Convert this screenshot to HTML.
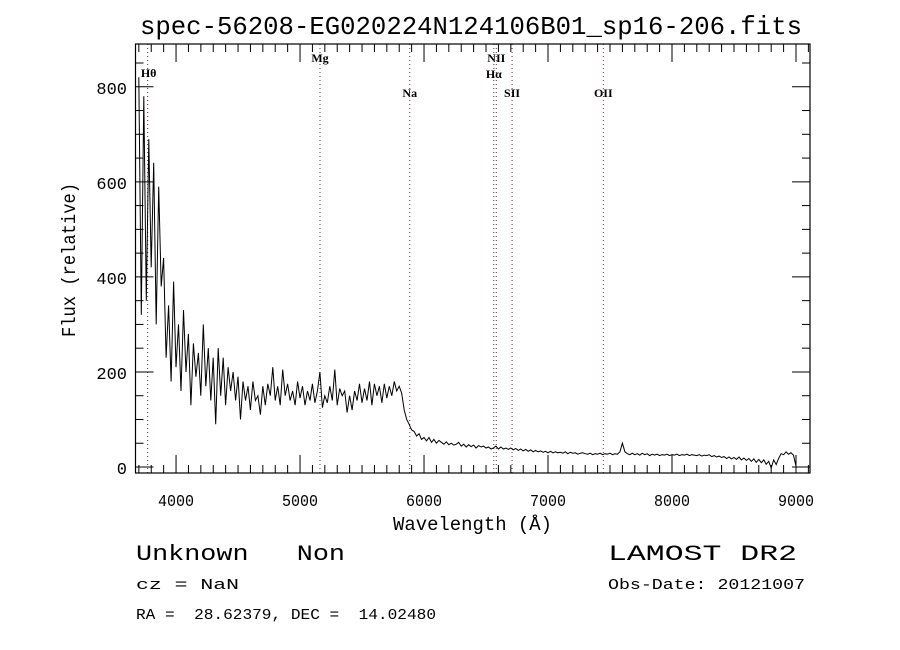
<!DOCTYPE html>
<html><head><meta charset="utf-8"><style>
html,body{margin:0;padding:0;background:#fff;width:900px;height:650px;overflow:hidden}
svg text{fill:#000;white-space:pre}
.t{font-family:"Liberation Mono",monospace}
.s{font-family:"Liberation Serif",serif;font-size:12px}
</style></head><body>
<svg id="chart" width="900" height="650" viewBox="0 0 900 650" xmlns="http://www.w3.org/2000/svg" xml:space="preserve">
<rect width="900" height="650" fill="#fff"/>
<text class="t" x="140" y="34" font-size="26" textLength="662" lengthAdjust="spacingAndGlyphs">spec-56208-EG020224N124106B01_sp16-206.fits</text>
<g id="lines"></g>
<g id="ticks"></g>
<path id="spec" fill="none" stroke="#000" stroke-width="1"/>
<rect x="135.5" y="44" width="674.5" height="429" fill="none" stroke="#000" stroke-width="1.2"/>
<text class="t" x="393" y="530" font-size="19" textLength="159" lengthAdjust="spacingAndGlyphs">Wavelength (Å)</text>
<text class="t" transform="translate(75,337) rotate(-90)" font-size="19" textLength="154" lengthAdjust="spacingAndGlyphs">Flux (relative)</text>
<text class="t" x="136" y="560" font-size="22" textLength="209" lengthAdjust="spacingAndGlyphs">Unknown   Non</text>
<text class="t" x="608" y="560" font-size="22" textLength="189" lengthAdjust="spacingAndGlyphs">LAMOST DR2</text>
<text class="t" x="136" y="589" font-size="15" textLength="103" lengthAdjust="spacingAndGlyphs">cz = NaN</text>
<text class="t" x="608" y="589" font-size="15" textLength="197" lengthAdjust="spacingAndGlyphs">Obs-Date: 20121007</text>
<text class="t" x="136" y="619" font-size="15" textLength="300" lengthAdjust="spacingAndGlyphs">RA =  28.62379, DEC =  14.02480</text>
</svg>
<script>
const xTicks=[4000,5000,6000,7000,8000,9000];
const yTicks=[0,200,400,600,800];
const lineNames=["Hθ","Mg","Na","NII","Hα","SII","OII"];
const lineWaves=[3771,5161,5885,6583,6563,6710,7446];
const wave0=3700, waveStep=20;
const flux=[820,320,780,350,690,420,640,300,590,380,440,230,340,180,390,210,300,160,330,200,280,130,260,190,240,150,300,170,250,140,230,90,250,150,230,130,210,160,200,140,190,100,180,140,170,120,180,140,150,110,170,130,175,150,210,140,170,130,205,150,175,140,160,130,180,145,170,130,160,140,175,135,160,200,125,150,135,170,140,205,130,165,150,160,115,150,120,160,140,175,135,165,140,180,130,175,150,170,135,175,145,170,150,180,160,170,155,120,100,90,78,75,65,70,58,62,55,62,52,58,50,56,52,48,53,47,50,46,48,52,44,48,42,47,43,46,40,45,42,44,40,42,38,40,44,38,42,38,40,37,40,36,39,35,38,34,37,33,36,32,35,32,34,31,33,30,33,30,32,30,31,29,32,28,31,29,30,27,29,30,28,27,29,26,28,27,29,26,28,27,29,26,28,27,32,50,32,28,26,29,26,28,25,29,26,28,24,27,25,27,24,26,25,27,24,26,25,27,24,26,25,27,24,26,25,24,26,23,25,24,26,22,24,21,23,20,22,18,21,17,20,16,21,15,19,14,18,12,17,10,16,9,15,6,12,-2,15,5,18,28,26,32,27,30,25,2];
const X0=3673,X1=9113,Y0=-12.6,Y1=890,L=135.5,R=810,T=44,B=473;
function sx(w){return L+(w-X0)/(X1-X0)*(R-L);}
function sy(v){return B-(v-Y0)/(Y1-Y0)*(B-T);}
const NS="http://www.w3.org/2000/svg";
function mk(tag,attrs,parent){const e=document.createElementNS(NS,tag);for(const k in attrs)e.setAttribute(k,attrs[k]);parent.appendChild(e);return e;}
const tg=document.getElementById('ticks');
for(let w=3700;w<=9100;w+=100){const x=sx(w);const big=w%1000===0;const len=big?18:8;
 const t1=mk('line',{x1:x,x2:x,y1:B,y2:B-len,stroke:'#000'},tg);
 
 
 const t2=mk('line',{x1:x,x2:x,y1:T,y2:T+len,stroke:'#000'},tg);
 
 }
xTicks.forEach(w=>{const t=mk('text',{x:sx(w),y:506,'text-anchor':'middle','font-size':17,class:'t',textLength:36,lengthAdjust:'spacingAndGlyphs'},tg);t.textContent=w;
 
 });
for(let v=0;v<=850;v+=50){const y=sy(v);const big=v%200===0;const len=big?18:8;
 const t1=mk('line',{x1:L,x2:L+len,y1:y,y2:y,stroke:'#000'},tg);
 
 
 const t2=mk('line',{x1:R,x2:R-len,y1:y,y2:y,stroke:'#000'},tg);
 
 }
yTicks.forEach(v=>{const t=mk('text',{x:127,y:sy(v)+7,'text-anchor':'end','font-size':17,class:'t'},tg);t.textContent=v;
 
 });
const lg=document.getElementById('lines');
const labelY=[77,62,97,62,78,97,97];
lineNames.forEach((n,i)=>{const x=sx(lineWaves[i]);
 const l=mk('line',{x1:x,x2:x,y1:T,y2:B,stroke:'#6a3030','stroke-width':1,'stroke-dasharray':'1,3'},lg);
 
 
 const t=mk('text',{x:(i===0?x+1:x),y:labelY[i],'text-anchor':'middle',class:'s','font-weight':'bold'},lg);t.textContent=n;
 
 });
let d='';flux.forEach((v,i)=>{d+=(i?'L':'M')+sx(wave0+i*waveStep).toFixed(1)+','+sy(v).toFixed(1);});
document.getElementById('spec').setAttribute('d',d);
</script>
</body></html>
